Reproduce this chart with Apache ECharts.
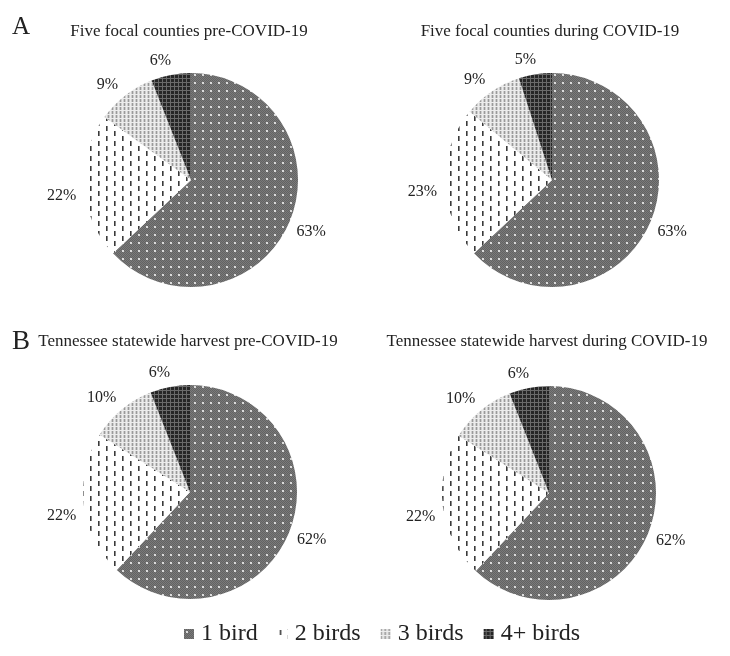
<!DOCTYPE html>
<html>
<head>
<meta charset="utf-8">
<script src="https://cdn.jsdelivr.net/npm/echarts@6/dist/echarts.min.js"></script>
<style>
html,body{margin:0;padding:0;background:#fff;}
#chart{width:730px;height:656px;}
</style>
</head>
<body>
<div id="chart"></div>
<script>
// ---- data ----
const categories = ['1 bird', '2 birds', '3 birds', '4+ birds'];
const focalPre = [63, 22, 9, 6];
const focalDuring = [63, 23, 9, 5];
const statePre = [62, 22, 10, 6];
const stateDuring = [62, 22, 10, 6];
const panelTitles = [
  'Five focal counties pre-COVID-19',
  'Five focal counties during COVID-19',
  'Tennessee statewide harvest pre-COVID-19',
  'Tennessee statewide harvest during COVID-19'
];
const panelLetters = ['A', 'B'];

// ---- pattern fills ----
function makeTile(w, h, draw) {
  const c = document.createElement('canvas');
  c.width = w; c.height = h;
  const g = c.getContext('2d');
  draw(g);
  return { image: c, repeat: 'repeat' };
}
const fills = [
  makeTile(8, 8, g => {
    g.fillStyle = '#7a7a7a'; g.fillRect(0, 0, 8, 8);
    g.fillStyle = '#636363';
    for (let y = 0; y < 8; y++) for (let x = (y % 2); x < 8; x += 2) g.fillRect(x, y, 1, 1);
    g.fillStyle = '#dcdcdc'; g.fillRect(2, 2, 2, 2);
  }),
  makeTile(16, 10, g => {
    g.fillStyle = '#ffffff'; g.fillRect(0, 0, 16, 10);
    g.fillStyle = '#3a3a3a';
    g.fillRect(2, 1, 1.6, 5); g.fillRect(10, 6, 1.6, 4); g.fillRect(10, 0, 1.6, 1);
  }),
  makeTile(4, 4, g => {
    g.fillStyle = '#cdcdcd'; g.fillRect(0, 0, 4, 4);
    g.fillStyle = '#9a9a9a'; g.fillRect(0, 0, 1, 4);
    g.fillStyle = '#ececec'; g.fillRect(2, 0, 1, 4); g.fillRect(0, 2, 4, 1);
  }),
  makeTile(4, 4, g => {
    g.fillStyle = '#262626'; g.fillRect(0, 0, 4, 4);
    g.fillStyle = '#6a6a6a'; g.fillRect(2, 0, 1, 4); g.fillRect(0, 2, 4, 1);
  })
];

const FONT = "'Liberation Serif', 'DejaVu Serif', serif";
const centers = [[191, 180], [552, 180], [190, 492], [549, 493]];
const datasets = [focalPre, focalDuring, statePre, stateDuring];
const R = 107;
const LABEL_GAP = 115;      // distance from centre to nearest edge of label box
const LEFT_TURN = 3.5 * Math.PI / 180; // left-side labels sit slightly counter-clockwise

const series = [];
datasets.forEach((vals, i) => {
  const data = categories.map((name, k) => ({
    name: name, value: vals[k], itemStyle: { color: fills[k] }
  }));
  series.push({
    type: 'pie', center: centers[i], radius: [0, R],
    startAngle: 90, clockwise: true, avoidLabelOverlap: false,
    silent: true, label: { show: false }, labelLine: { show: false },
    emphasis: { disabled: true },
    itemStyle: { borderWidth: 0 },
    data: data
  });
  // label ring (transparent) to place percentage labels around the pie
  series.push({
    type: 'pie', center: centers[i], radius: [R + 16, R + 30],
    startAngle: 90, clockwise: true, avoidLabelOverlap: false,
    silent: true, labelLine: { show: false },
    emphasis: { disabled: true },
    itemStyle: { color: 'rgba(0,0,0,0)', borderWidth: 0 },
    label: {
      show: true, position: 'inside', rotate: 0,
      formatter: p => p.value + '%',
      fontFamily: FONT, fontSize: 16, color: '#222'
    },
    labelLayout: function (p) {
      const c = centers[Math.floor(p.seriesIndex / 2)];
      const r = p.labelRect;
      const mx = r.x + r.width / 2, my = r.y + r.height / 2;
      let vx = mx - c[0], vy = my - c[1];
      const d = Math.sqrt(vx * vx + vy * vy) || 1;
      let ux = vx / d, uy = vy / d;
      if (ux < 0) {
        // rotate counter-clockwise on screen
        const cs = Math.cos(LEFT_TURN), sn = Math.sin(LEFT_TURN);
        const nx = ux * cs + uy * sn, ny = -ux * sn + uy * cs;
        ux = nx; uy = ny;
      }
      const ext = Math.abs(ux) * r.width / 2 + Math.abs(uy) * (r.height - 4) / 2;
      const nd = LABEL_GAP + ext;
      return { x: c[0] + ux * nd, y: c[1] + uy * nd, align: 'center', verticalAlign: 'middle' };
    },
    data: categories.map((name, k) => ({ name: name, value: vals[k] }))
  });
});

const titleTops = [23, 23, 333, 333];
const titles = panelTitles.map((t, i) => ({
  text: t, left: centers[i][0] - 2, top: titleTops[i], textAlign: 'center', padding: 0,
  textStyle: { fontFamily: FONT, fontSize: 17, fontWeight: 'normal', color: '#222' }
}));
titles.push({
  text: panelLetters[0], left: 12, top: 15, padding: 0,
  textStyle: { fontFamily: FONT, fontSize: 25, fontWeight: 'normal', color: '#222' }
});
titles.push({
  text: panelLetters[1], left: 12, top: 328, padding: 0,
  textStyle: { fontFamily: FONT, fontSize: 27, fontWeight: 'normal', color: '#222' }
});

const chart = echarts.init(document.getElementById('chart'));
chart.setOption({
  animation: false,
  backgroundColor: '#fff',
  title: titles,
  legend: {
    data: categories, left: 184, top: 622, padding: 0,
    icon: 'rect', itemWidth: 10, itemHeight: 10, itemGap: 20,
    selectedMode: false,
    textStyle: { fontFamily: FONT, fontSize: 24, color: '#222', padding: [0, 0, 0, 2] }
  },
  series: series
});
</script>
</body>
</html>
